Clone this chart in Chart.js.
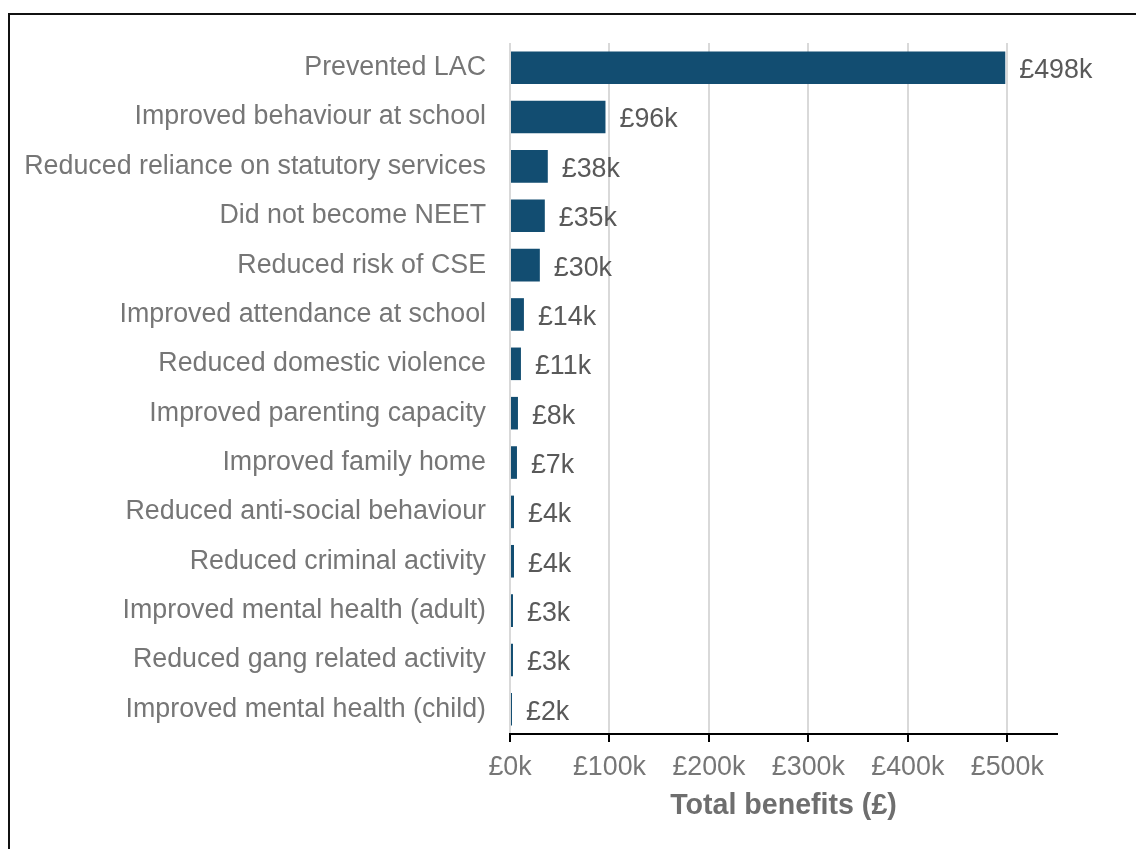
<!DOCTYPE html>
<html>
<head>
<meta charset="utf-8">
<script src="https://cdn.jsdelivr.net/npm/chart.js@4.4.1/dist/chart.umd.min.js"></script>
<style>
  html, body { margin: 0; padding: 0; background: #fff; overflow: hidden; }
  #wrap { position: relative; width: 1136px; height: 849px; }
  #frame {
    position: absolute; left: 8px; top: 13px; width: 2000px; height: 2000px;
    border: 2px solid #111; box-sizing: border-box; pointer-events: none;
  }
</style>
</head>
<body>
<div id="wrap">
  <canvas id="benefitsChart" width="1136" height="849"></canvas>
  <div id="frame"></div>
</div>
<script>
// Benefit categories and totals (in £k)
const categories = [
    'Prevented LAC',
    'Improved behaviour at school',
    'Reduced reliance on statutory services',
    'Did not become NEET',
    'Reduced risk of CSE',
    'Improved attendance at school',
    'Reduced domestic violence',
    'Improved parenting capacity',
    'Improved family home',
    'Reduced anti-social behaviour',
    'Reduced criminal activity',
    'Improved mental health (adult)',
    'Reduced gang related activity',
    'Improved mental health (child)'
];
const benefits = [498, 96, 38, 35, 30, 14, 11, 8, 7, 4, 4, 3, 3, 2];
const xTicks = [0, 100, 200, 300, 400, 500];

const FONT = '"Liberation Sans", Arial, sans-serif';
const SIZE = 26.8;

// Draws "£Nk" just past the end of each bar
const valueLabels = {
    id: 'valueLabels',
    afterDatasetsDraw(chart) {
        const ctx = chart.ctx;
        const meta = chart.getDatasetMeta(0);
        ctx.save();
        ctx.font = SIZE + 'px ' + FONT;
        ctx.fillStyle = '#595959';
        ctx.textAlign = 'left';
        ctx.textBaseline = 'middle';
        meta.data.forEach((bar, i) => {
            ctx.fillText('£' + benefits[i] + 'k', bar.x + 14, bar.y + 3);
        });
        ctx.restore();
    }
};

new Chart(document.getElementById('benefitsChart'), {
    type: 'bar',
    data: {
        labels: categories,
        datasets: [{
            data: benefits,
            backgroundColor: '#124d71',
            borderWidth: 0,
            barPercentage: 0.66,
            categoryPercentage: 1
        }]
    },
    options: {
        indexAxis: 'y',
        responsive: false,
        animation: false,
        layout: { padding: { left: 0, top: 43, right: 79, bottom: 22 } },
        plugins: {
            legend: { display: false },
            tooltip: { enabled: false }
        },
        scales: {
            x: {
                min: 0,
                max: 550,
                afterBuildTicks(scale) {
                    scale.ticks = xTicks.map(v => ({ value: v }));
                },
                afterFit(scale) {
                    scale.height = 849 - 734 - 22;
                },
                grid: {
                    color: '#d9d9d9',
                    lineWidth: 2,
                    tickColor: '#000',
                    tickLength: 8,
                    tickWidth: 2
                },
                border: { color: '#000', width: 2 },
                ticks: {
                    color: '#767676',
                    font: { family: FONT, size: SIZE },
                    padding: 10,
                    maxRotation: 0,
                    callback: v => '£' + v + 'k'
                },
                title: {
                    display: true,
                    text: 'Total benefits (£)',
                    color: '#6e6e6e',
                    font: { family: FONT, size: 28.6, weight: 'bold' },
                    padding: { top: 4, bottom: 4 }
                }
            },
            y: {
                afterFit(scale) {
                    scale.width = 510;
                },
                grid: { display: false, drawTicks: false },
                border: { display: false },
                ticks: {
                    color: '#767676',
                    font: { family: FONT, size: SIZE },
                    padding: 24
                }
            }
        }
    },
    plugins: [valueLabels]
});
</script>
</body>
</html>
